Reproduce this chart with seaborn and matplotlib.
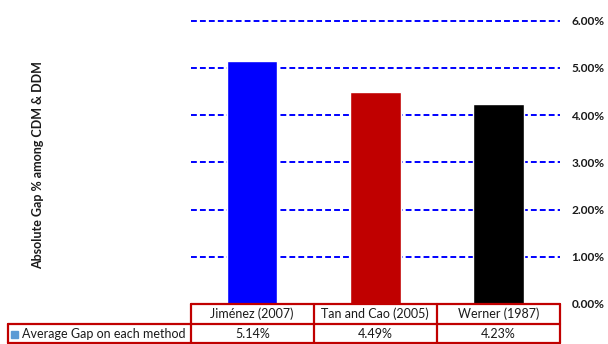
import matplotlib
matplotlib.use("Agg")
import matplotlib.pyplot as plt
from matplotlib.patches import Rectangle
from matplotlib.lines import Line2D
import seaborn as sns
import pandas as pd

# Data
methods = ["Jiménez (2007)", "Tan and Cao (2005)", "Werner (1987)"]
avg_gap = [5.14, 4.49, 4.23]
bar_colors = ["#0000FF", "#C00000", "#000000"]
y_ticks = [0, 1, 2, 3, 4, 5, 6]
y_tick_labels = ["0.00%", "1.00%", "2.00%", "3.00%", "4.00%", "5.00%", "6.00%"]
series_name = "Average Gap on each method"
y_title = "Absolute Gap % among CDM & DDM"

sns.set_style("white")
plt.rcParams["font.family"] = ["Lato", "DejaVu Sans"]

W, H = 608, 344
fig = plt.figure(figsize=(W / 100, H / 100), dpi=100)


def fx(px):
    return px / W


def fy(py):
    return 1 - py / H


# plot area in pixel units
x_left, x_right = 190.7, 560.0
y_top, y_zero = 20.7, 304.0
ax = fig.add_axes([fx(x_left), fy(y_zero), fx(x_right - x_left), (y_zero - y_top) / H])

df = pd.DataFrame({"method": methods, "gap": avg_gap})
sns.barplot(data=df, x="method", y="gap", hue="method", palette=bar_colors,
            dodge=False, width=0.41, legend=False, saturation=1, ax=ax, zorder=3)

ax.set_xlim(-0.5, len(methods) - 0.5)
ax.set_ylim(0, 6)
for v in y_ticks[1:]:
    ax.axhline(v, color="#0000FF", lw=1.4, ls=(0, (3, 1.6)), zorder=1, clip_on=False)

for s in ax.spines.values():
    s.set_visible(False)
ax.set_xticks([])
ax.set_xlabel("")
ax.set_ylabel("")
ax.yaxis.tick_right()
ax.set_yticks(y_ticks)
ax.set_yticklabels(y_tick_labels, fontsize=8.6, fontweight="bold", color="#1a1a1a")
ax.tick_params(axis="y", length=0, pad=8.4)

fig.text(fx(38), fy(165), y_title, rotation=90, ha="center", va="center",
         fontsize=9, fontweight="bold", color="#1a1a1a")

# Data table under the bars
red = "#C00000"
lw = 1.6
col_w = (x_right - x_left) / len(methods)
row1_top, row_mid, row_bot = 304.0, 323.8, 343.2
tab_left = 7.5


def hline(x0, x1, y):
    fig.add_artist(Line2D([fx(x0), fx(x1)], [fy(y), fy(y)], color=red, lw=lw))


def vline(x, y0, y1):
    fig.add_artist(Line2D([fx(x), fx(x)], [fy(y0), fy(y1)], color=red, lw=lw))


hline(x_left, x_right, row1_top)
hline(tab_left, x_right, row_mid)
hline(tab_left, x_right, row_bot)
vline(tab_left, row_mid, row_bot)
for i in range(len(methods) + 1):
    vline(x_left + i * col_w, row1_top, row_bot)

for i, (m, v) in enumerate(zip(methods, avg_gap)):
    cx = x_left + (i + 0.5) * col_w
    fig.text(fx(cx), fy((row1_top + row_mid) / 2), m, ha="center", va="center",
             fontsize=9, color="#1a1a1a")
    fig.text(fx(cx), fy((row_mid + row_bot) / 2), f"{v:.2f}%", ha="center",
             va="center", fontsize=9, color="#1a1a1a")

fig.add_artist(Rectangle((fx(11), fy(337.5)), fx(7), 7 / H, color="#5B9BD5",
                         transform=fig.transFigure))
fig.text(fx(22), fy((row_mid + row_bot) / 2), series_name, ha="left", va="center",
         fontsize=9, color="#1a1a1a")

fig.savefig("out.png", dpi=100)
